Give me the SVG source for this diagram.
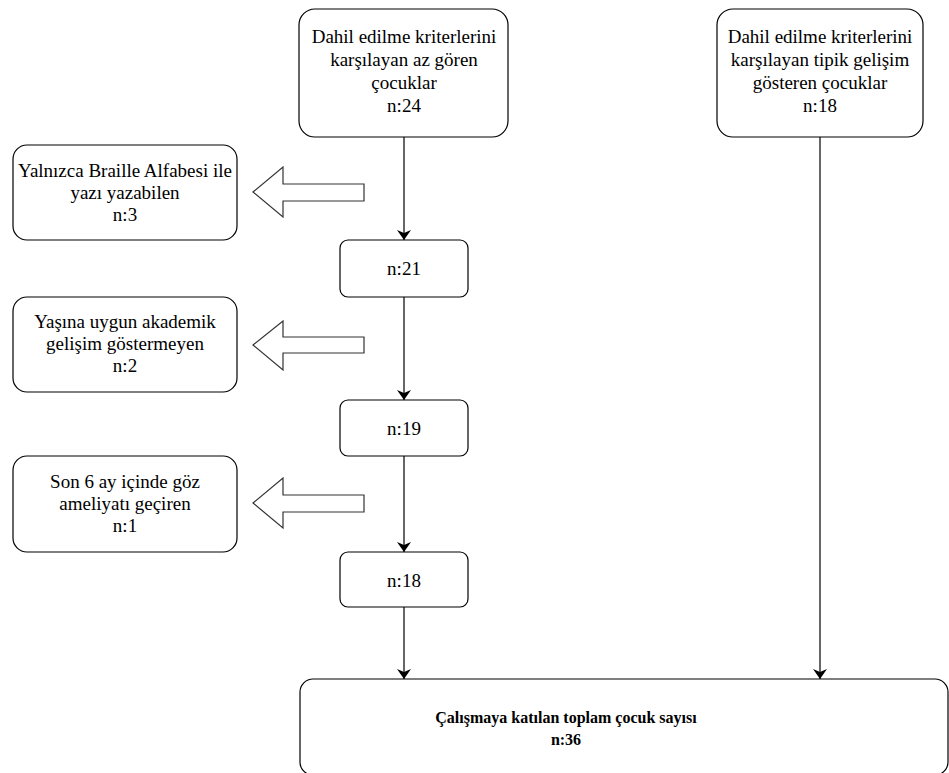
<svg xmlns="http://www.w3.org/2000/svg" width="949" height="773" viewBox="0 0 949 773">
<defs>
<marker id="ah" viewBox="0 0 10 16" refX="10" refY="8" markerWidth="10" markerHeight="16" markerUnits="userSpaceOnUse" orient="auto">
<path d="M0,1 L10,8 L0,15 L3,8 Z" fill="#000"/>
</marker>
</defs>
<style>
.box{fill:#fff;stroke:#000;stroke-width:1.2}
.t{font-size:19px;fill:#000;text-anchor:middle}
.b{font-weight:bold;font-size:16px}
.con{stroke:#000;stroke-width:1.2;fill:none}
.big{fill:#fff;stroke:#333;stroke-width:1.2}
</style>
<rect width="949" height="773" fill="#fff"/>
<g id="connectors">
<line class="con" x1="404" y1="137" x2="404" y2="240" marker-end="url(#ah)"/>
<line class="con" x1="404" y1="297" x2="404" y2="400" marker-end="url(#ah)"/>
<line class="con" x1="404" y1="456" x2="404" y2="552" marker-end="url(#ah)"/>
<line class="con" x1="404" y1="607" x2="404" y2="679" marker-end="url(#ah)"/>
<line class="con" x1="820" y1="137" x2="820" y2="679" marker-end="url(#ah)"/>
<path class="big" d="M253,192 L283,167 L283,184 L364,184 L364,201 L283,201 L283,217 Z"/>
<path class="big" d="M253,345 L283,321 L283,337 L364,337 L364,353 L283,353 L283,370 Z"/>
<path class="big" d="M253,503 L283,478 L283,495 L364,495 L364,512 L283,512 L283,528 Z"/>
</g>
<g font-family="'Liberation Serif', 'Times New Roman', Tinos, 'DejaVu Serif', serif">
<g id="n1">
<rect class="box" x="299" y="9" width="209" height="128" rx="16"/>
<text class="t" x="404" y="43">Dahil edilme kriterlerini</text>
<text class="t" x="404" y="66">karşılayan az gören</text>
<text class="t" x="404" y="89">çocuklar</text>
<text class="t" x="404" y="112">n:24</text>
</g>
<g id="n2">
<rect class="box" x="717" y="9" width="206" height="128" rx="16"/>
<text class="t" x="820" y="43">Dahil edilme kriterlerini</text>
<text class="t" x="820" y="66">karşılayan tipik gelişim</text>
<text class="t" x="820" y="89">gösteren çocuklar</text>
<text class="t" x="820" y="112">n:18</text>
</g>
<g id="e1">
<rect class="box" x="13" y="145" width="224" height="95" rx="14"/>
<text class="t" x="125" y="177">Yalnızca Braille Alfabesi ile</text>
<text class="t" x="125" y="199">yazı yazabilen</text>
<text class="t" x="125" y="221">n:3</text>
</g>
<g id="s21">
<rect class="box" x="340" y="240" width="128" height="57" rx="8"/>
<text class="t" x="404" y="275">n:21</text>
</g>
<g id="e2">
<rect class="box" x="13" y="297" width="224" height="95" rx="14"/>
<text class="t" x="125" y="328">Yaşına uygun akademik</text>
<text class="t" x="125" y="350">gelişim göstermeyen</text>
<text class="t" x="125" y="372">n:2</text>
</g>
<g id="s19">
<rect class="box" x="340" y="400" width="128" height="56" rx="8"/>
<text class="t" x="404" y="435">n:19</text>
</g>
<g id="e3">
<rect class="box" x="13" y="456" width="224" height="96" rx="14"/>
<text class="t" x="125" y="488">Son 6 ay içinde göz</text>
<text class="t" x="125" y="510">ameliyatı geçiren</text>
<text class="t" x="125" y="532">n:1</text>
</g>
<g id="s18">
<rect class="box" x="340" y="552" width="128" height="55" rx="8"/>
<text class="t" x="404" y="587">n:18</text>
</g>
<g id="total">
<rect class="box" x="300" y="679" width="648" height="96" rx="13"/>
<text class="t b" x="566" y="723">Çalışmaya katılan toplam çocuk sayısı</text>
<text class="t b" x="566" y="745">n:36</text>
</g>
</g>
</svg>
